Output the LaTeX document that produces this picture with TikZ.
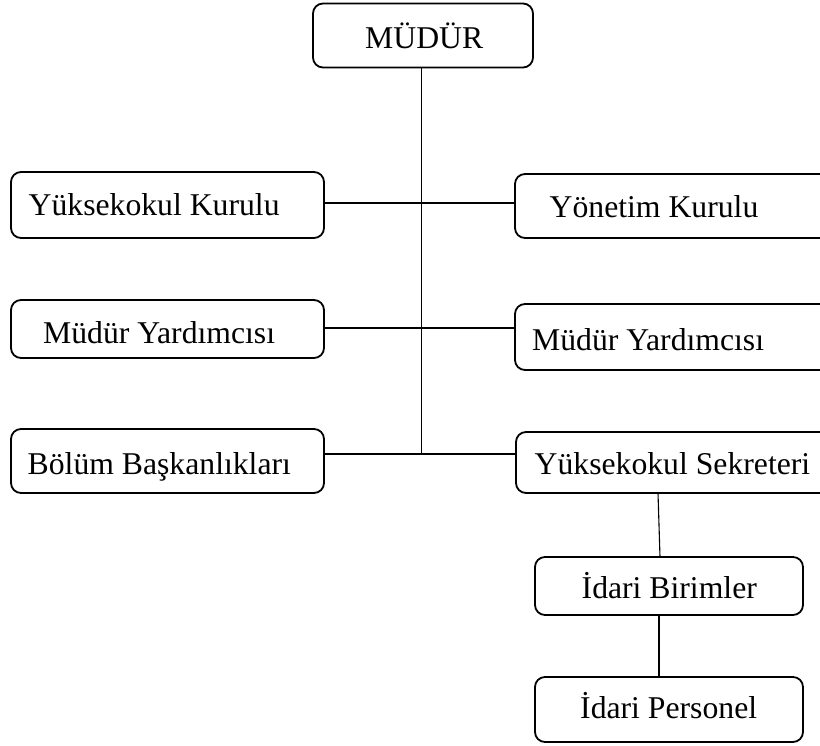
\documentclass[tikz,border=0pt]{standalone}
\usepackage{fontspec}
\setmainfont{Liberation Serif}
\begin{document}
\begin{tikzpicture}[x=1pt,y=-1pt,
  box/.style={draw,line width=1.8pt,rounded corners=10pt,inner sep=0pt,outer sep=0pt},
  txt/.style={inner sep=0pt,anchor=base west,font=\fontsize{31.7}{38}\selectfont},
  conn/.style={line width=1.1pt}]
\useasboundingbox (0,0) rectangle (820,745);
\clip (0,0) rectangle (820,745);
% boxes
\node[box,minimum width=220pt,minimum height=64pt] (mudur) at (423,35.5) {};
\node[box,minimum width=313pt,minimum height=66pt] (yk) at (167.5,205) {};
\node[box,minimum width=315pt,minimum height=64pt] (yon) at (672.5,206) {};
\node[box,minimum width=313pt,minimum height=58pt] (my1) at (167.5,329) {};
\node[box,minimum width=315pt,minimum height=66pt] (my2) at (672.5,337) {};
\node[box,minimum width=313pt,minimum height=64pt] (bb) at (167.5,461) {};
\node[box,minimum width=314pt,minimum height=61pt] (ys) at (673,462.5) {};
\node[box,minimum width=268pt,minimum height=58pt] (ib) at (669,586) {};
\node[box,minimum width=268pt,minimum height=65pt] (ip) at (669,709.5) {};
% texts
\node[txt] (tmudur) at (365,48) {MÜDÜR};
\node[txt] (tyk) at (28.5,215) {Yüksekokul Kurulu};
\node[txt] (tyon) at (549.5,217) {Yönetim Kurulu};
\node[txt] (tmy1) at (43,343) {Müdür Yardımcısı};
\node[txt] (tmy2) at (532,350) {Müdür Yardımcısı};
\node[txt] (tbb) at (27.5,474) {Bölüm Başkanlıkları};
\node[txt] (tys) at (534.5,474) {Yüksekokul Sekreteri};
\node[txt] (tib) at (581.5,598) {İdari Birimler};
\node[txt] (tip) at (580,718) {İdari Personel};
% connectors
\coordinate (spine) at (421.5,454);
\coordinate (h1) at (421.5,203);
\coordinate (h2) at (421.5,328);
\draw[conn] (mudur.south -| spine) -- (spine);
\draw[conn] (yk.east |- h1) -- (yon.west |- h1);
\draw[conn] (my1.east |- h2) -- (my2.west |- h2);
\draw[conn] (bb.east |- spine) -- (ys.west |- spine);
\coordinate (v1) at (658,0);
\coordinate (v2) at (660,0);
\coordinate (v3) at (659,0);
\draw[conn] (ys.south -| v1) -- (ib.north -| v2);
\draw[conn] (ib.south -| v3) -- (ip.north -| v3);
\end{tikzpicture}
\end{document}
